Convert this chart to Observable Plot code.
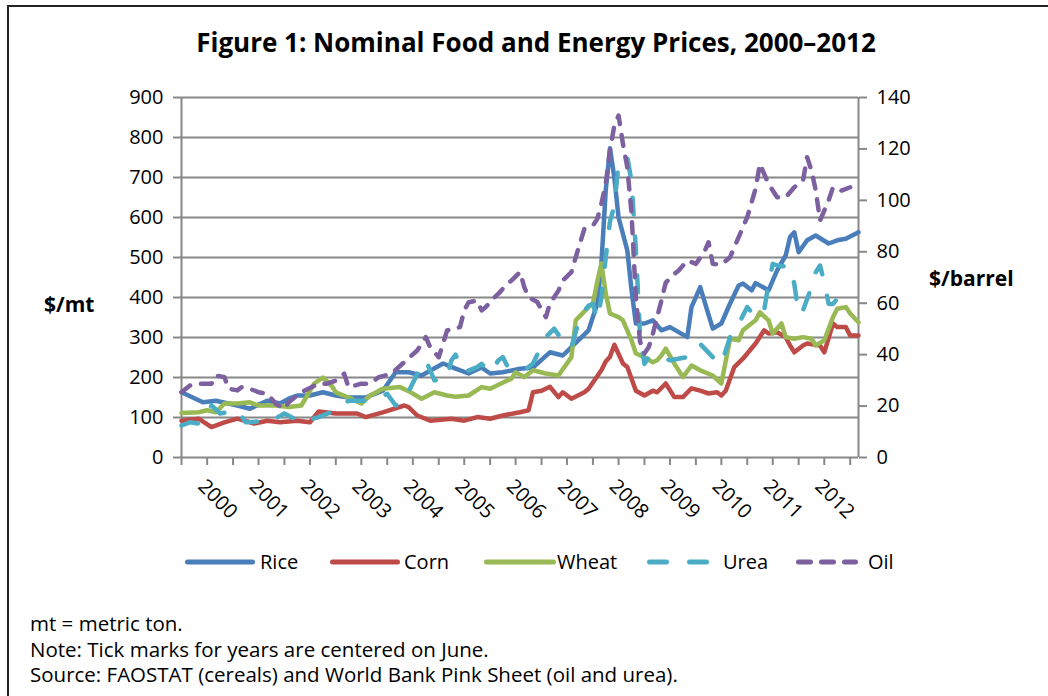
<!DOCTYPE html>
<html>
<head>
<meta charset="utf-8">
<script src="https://cdn.jsdelivr.net/npm/d3@7"></script>
<script src="https://cdn.jsdelivr.net/npm/@observablehq/plot@0.6"></script>
<style>
  html, body { margin: 0; padding: 0; background: #fff; }
  #wrap { position: relative; width: 1048px; height: 696px; overflow: hidden; font-family: "Open Sans", "DejaVu Sans", sans-serif; color: #000; }
  #frame { position: absolute; left: 7px; top: 5px; width: 1200px; height: 900px; border-top: 2px solid #222; border-left: 2px solid #222; }
  #title { position: absolute; left: 0; top: 23px; width: 1072px; text-align: center; font-weight: 700; font-size: 26px; line-height: 38px; }
  #chart { position: absolute; left: 0; top: 70px; }
  .ylab { position: absolute; font-weight: 700; font-size: 21px; line-height: 28px; }
  #legend { position: absolute; left: 0; top: 548px; width: 1048px; height: 28px; font-size: 20px; line-height: 28px; }
  #legend svg { position: absolute; top: 8px; display: block; }
  #legend span { position: absolute; top: 0; }
  #notes { position: absolute; left: 30px; top: 611px; font-size: 20.5px; line-height: 25.5px; }
</style>
</head>
<body>
<div id="wrap">
  <div id="frame"></div>
  <div id="title">Figure 1: Nominal Food and Energy Prices, 2000–2012</div>
  <div id="chart"></div>
  <div class="ylab" style="left:44px; top:290px;">$/mt</div>
  <div class="ylab" style="left:929px; top:264px;">$/barrel</div>
  <div id="legend"></div>
  <div id="notes">
    <div>mt = metric ton.</div>
    <div>Note: Tick marks for years are centered on June.</div>
    <div>Source: FAOSTAT (cereals) and World Bank Pink Sheet (oil and urea).</div>
  </div>
</div>
<script>
// ---------- DATA (monthly prices) ----------
// Rice, Corn, Wheat, Urea in $/mt (left axis); Oil in $/barrel (right axis)
const rice = [
  ["2000-01",163],["2000-06",138],["2000-09",142],["2001-02",130],["2001-05",122],["2001-09",142],
  ["2001-12",135],["2002-02",147],["2002-04",155],["2002-07",155],["2002-10",163],["2003-01",155],
  ["2003-04",150],["2003-08",150],["2003-12",167],["2004-03",213],["2004-06",213],["2004-09",205],
  ["2005-02",235],["2005-05",222],["2005-08",210],["2005-11",225],["2006-01",210],["2006-04",213],
  ["2006-08",222],["2006-11",225],["2007-03",263],["2007-06",255],["2007-08",276],["2007-12",318],
  ["2008-02",385],["2008-03",485],["2008-04",668],["2008-05",773],["2008-06",700],["2008-07",600],
  ["2008-09",518],["2008-10",418],["2008-11",335],["2009-01",335],["2009-03",343],["2009-05",318],
  ["2009-07",326],["2009-11",301],["2009-12",376],["2010-02",426],["2010-03",393],["2010-05",322],
  ["2010-07",335],["2010-09",385],["2010-11",430],["2010-12",435],["2011-02",418],["2011-03",436],
  ["2011-06",418],["2011-08",468],["2011-10",505],["2011-11",551],["2011-12",563],["2012-01",513],
  ["2012-03",543],["2012-05",555],["2012-08",535],["2012-10",543],["2012-12",547],["2013-03",563]
];
const corn = [
  ["2000-01",92],["2000-05",97],["2000-08",76],["2000-11",88],["2001-02",97],["2001-06",85],
  ["2001-09",92],["2001-12",88],["2002-04",92],["2002-07",88],["2002-09",115],["2003-01",110],
  ["2003-06",110],["2003-08",101],["2003-12",113],["2004-05",130],["2004-06",126],["2004-08",105],
  ["2004-11",92],["2005-04",97],["2005-07",92],["2005-10",101],["2006-01",97],["2006-04",105],
  ["2006-08",113],["2006-10",118],["2006-11",163],["2007-01",167],["2007-03",177],["2007-05",151],
  ["2007-06",163],["2007-08",147],["2007-11",163],["2007-12",172],["2008-03",218],["2008-04",240],
  ["2008-05",252],["2008-06",282],["2008-08",235],["2008-09",226],["2008-11",167],["2009-01",155],
  ["2009-03",167],["2009-04",163],["2009-06",185],["2009-08",151],["2009-10",151],["2009-12",173],
  ["2010-02",167],["2010-04",160],["2010-06",163],["2010-07",155],["2010-08",167],["2010-10",226],
  ["2010-12",247],["2011-03",285],["2011-05",318],["2011-06",310],["2011-08",313],["2011-10",301],
  ["2011-11",280],["2011-12",263],["2012-02",280],["2012-03",285],["2012-06",280],["2012-07",263],
  ["2012-09",335],["2012-10",326],["2012-12",326],["2013-01",305],["2013-03",305]
];
const wheat = [
  ["2000-01",111],["2000-05",113],["2000-07",118],["2000-09",113],["2000-11",135],["2001-02",135],
  ["2001-05",138],["2001-07",130],["2001-11",130],["2002-02",126],["2002-05",130],["2002-08",185],
  ["2002-10",200],["2002-12",180],["2003-01",163],["2003-04",150],["2003-07",135],["2003-09",155],
  ["2003-12",172],["2004-04",176],["2004-06",166],["2004-09",147],["2004-12",163],["2005-03",155],
  ["2005-05",152],["2005-08",155],["2005-11",176],["2006-01",172],["2006-03",182],["2006-06",197],
  ["2006-07",213],["2006-09",201],["2006-11",218],["2007-02",210],["2007-05",205],["2007-08",251],
  ["2007-09",343],["2007-12",376],["2008-01",385],["2008-02",440],["2008-03",485],["2008-04",410],
  ["2008-05",360],["2008-07",351],["2008-08",343],["2008-10",293],["2008-11",260],["2009-01",251],
  ["2009-03",238],["2009-04",243],["2009-05",255],["2009-06",272],["2009-08",235],["2009-10",201],
  ["2009-12",230],["2010-02",218],["2010-05",205],["2010-07",185],["2010-09",297],["2010-11",293],
  ["2010-12",318],["2011-03",343],["2011-04",363],["2011-06",343],["2011-07",310],["2011-09",335],
  ["2011-10",301],["2011-12",297],["2012-02",301],["2012-04",297],["2012-05",280],["2012-07",293],
  ["2012-09",351],["2012-10",372],["2012-12",376],["2013-01",360],["2013-03",338]
];
const urea = [
  ["2000-01",80],["2000-03",88],["2000-05",85],["2000-08",130],["2000-10",110],["2001-02",118],
  ["2001-04",88],["2001-10",92],["2002-01",110],["2002-05",88],["2002-09",101],["2003-01",118],
  ["2003-04",142],["2003-06",142],["2003-08",142],["2003-11",150],["2004-01",159],["2004-03",130],
  ["2004-05",142],["2004-08",209],["2004-10",243],["2004-12",193],["2005-02",193],["2005-03",201],
  ["2005-04",243],["2005-05",257],["2005-06",228],["2005-07",213],["2005-10",226],["2005-11",234],
  ["2006-01",213],["2006-03",243],["2006-04",251],["2006-05",230],["2006-09",218],["2006-11",235],
  ["2007-02",301],["2007-04",322],["2007-07",276],["2007-08",276],["2007-10",351],["2007-12",380],
  ["2008-01",384],["2008-02",345],["2008-03",400],["2008-04",500],["2008-05",590],["2008-06",630],
  ["2008-07",734],["2008-09",751],["2008-10",690],["2008-11",520],["2008-12",300],["2009-01",234],
  ["2009-02",251],["2009-05",251],["2009-07",243],["2009-11",251],["2010-02",284],["2010-05",251],
  ["2010-07",234],["2010-09",301],["2010-11",334],["2011-01",376],["2011-03",351],["2011-05",368],
  ["2011-06",434],["2011-07",484],["2011-08",480],["2011-11",476],["2011-12",434],["2012-01",359],
  ["2012-02",368],["2012-04",426],["2012-05",463],["2012-06",480],["2012-07",438],["2012-08",384],
  ["2012-09",384],["2012-10",397]
];
const oil = [
  ["2000-01",25.4],["2000-03",28],["2000-05",28.7],["2000-08",28.7],["2000-09",31.9],["2000-11",31.2],
  ["2000-12",26.7],["2001-02",26.1],["2001-03",27.3],["2001-05",26.7],["2001-07",25.4],["2001-09",24.8],
  ["2001-11",20.9],["2002-01",18.9],["2002-02",21.5],["2002-05",25.4],["2002-09",28.7],["2002-11",28.7],
  ["2003-01",29.9],["2003-03",32.6],["2003-04",27.3],["2003-07",28.7],["2003-09",28.7],["2003-11",31.2],
  ["2004-02",32.6],["2004-05",37.1],["2004-08",41.6],["2004-10",46.8],["2004-11",42.9],["2005-01",39],
  ["2005-03",49.4],["2005-06",50.7],["2005-07",57.2],["2005-08",60.4],["2005-10",61],["2005-11",57.2],
  ["2005-12",58.5],["2006-02",62.3],["2006-03",63.7],["2006-05",67.5],["2006-06",68.8],["2006-08",72.1],
  ["2006-09",66.2],["2006-10",62.3],["2006-12",60.5],["2007-02",54.6],["2007-03",59.8],["2007-05",64.9],
  ["2007-06",68.8],["2007-08",72.1],["2007-09",77.9],["2007-11",88.9],["2008-01",90.2],["2008-02",92.8],
  ["2008-03",98.7],["2008-04",106.4],["2008-05",119.4],["2008-06",129.1],["2008-07",133],["2008-08",122],
  ["2008-09",112.9],["2008-10",95],["2008-11",62],["2008-12",45],["2009-01",40.5],["2009-02",43],
  ["2009-03",48],["2009-05",61],["2009-06",68],["2009-08",71.4],["2009-09",72.7],["2009-11",76.6],
  ["2010-01",75.3],["2010-03",79.8],["2010-04",83.7],["2010-05",75.3],["2010-07",75],["2010-09",77.9],
  ["2010-11",85.7],["2011-01",93.5],["2011-03",104.5],["2011-04",114.2],["2011-05",110.3],["2011-06",106.4],
  ["2011-08",101.2],["2011-10",101.2],["2011-12",105.1],["2012-02",107.7],["2012-03",116.8],["2012-04",111.6],
  ["2012-05",104],["2012-06",92.2],["2012-08",100],["2012-09",105.1],["2012-11",103.8],["2013-01",105.1]
];

const seriesNames = ["Rice", "Corn", "Wheat", "Urea", "Oil"];
const leftTicks = [0, 100, 200, 300, 400, 500, 600, 700, 800, 900];
const rightTicks = [0, 20, 40, 60, 80, 100, 120, 140];
const yearLabels = ["2000","2001","2002","2003","2004","2005","2006","2007","2008","2009","2010","2011","2012"];
const xDomain = ["2000-01", "2013-03"];

// ---------- STYLE ----------
const colors = { Rice: "#4A7EBB", Corn: "#BE4B48", Wheat: "#98B954", Urea: "#4BACC6", Oil: "#7D60A0" };
const dashes = { Rice: null, Corn: null, Wheat: null, Urea: "17,22", Oil: "11,11" };
const gridColor = "#888888";
const lineWidth = 4.5;
// legend layout: sample left edge, sample width, label left edge
const legendLayout = {
  Rice:  { sx: 185, sw: 70, tx: 260 },
  Corn:  { sx: 330, sw: 70, tx: 404 },
  Wheat: { sx: 484, sw: 72, tx: 557 },
  Urea:  { sx: 647, sw: 62, tx: 723 },
  Oil:   { sx: 796, sw: 62, tx: 868 }
};

// ---------- BUILD ----------
const parse = d3.utcParse("%Y-%m");
const rows = arr => arr.map(([m, v]) => ({ date: parse(m), value: v }));
const leftMax = leftTicks[leftTicks.length - 1];
const rightMax = rightTicks[rightTicks.length - 1];
const toLeft = v => v * leftMax / rightMax;
const xStart = parse(xDomain[0]);
const xEnd = parse(xDomain[1]);
const halfYearTicks = d3.utcMonth.every(6).range(xStart, d3.utcMonth.offset(xEnd, 1));
const yearDates = yearLabels.map(y => parse(`${y}-06`));

const seriesData = { Rice: rows(rice), Corn: rows(corn), Wheat: rows(wheat), Urea: rows(urea), Oil: rows(oil) };

const lineMarks = seriesNames.map(name => Plot.line(seriesData[name], {
  x: "date",
  y: name === "Oil" ? d => toLeft(d.value) : "value",
  stroke: colors[name],
  strokeWidth: lineWidth,
  strokeLinecap: "round",
  strokeLinejoin: "round",
  strokeDasharray: dashes[name] || undefined
}));

const chart = Plot.plot({
  width: 1048,
  height: 470,
  marginLeft: 181,
  marginRight: 190,
  marginTop: 27,
  marginBottom: 83,
  x: { type: "utc", domain: [xStart, xEnd] },
  y: { domain: [0, leftMax] },
  style: { fontFamily: "'Open Sans', 'DejaVu Sans', sans-serif", fontSize: "20px", color: "#000", background: "transparent", overflow: "visible" },
  marks: [
    Plot.ruleY(leftTicks, { x1: xStart, x2: xEnd, stroke: gridColor, strokeWidth: 2 }),
    Plot.ruleX([xStart, xEnd], { y1: 0, y2: leftMax, stroke: gridColor, strokeWidth: 2 }),
    Plot.axisY(leftTicks, { anchor: "left", tickSize: 8, tickPadding: 10, stroke: gridColor, strokeWidth: 2, fill: "#000", label: null }),
    Plot.axisY(rightTicks.map(toLeft), { anchor: "right", tickSize: 8, tickPadding: 10, stroke: gridColor, strokeWidth: 2, fill: "#000", label: null,
      tickFormat: d => String(Math.round(d * rightMax / leftMax)) }),
    Plot.axisX(halfYearTicks, { anchor: "bottom", tickSize: 8, stroke: gridColor, strokeWidth: 2, tickFormat: () => "", label: null }),
    Plot.text(yearDates, { x: d => d, text: (d, i) => yearLabels[i], frameAnchor: "bottom", rotate: 45,
      textAnchor: "start", lineAnchor: "bottom", dx: -6, dy: 30, fontSize: 20, fill: "#000" }),
    ...lineMarks
  ]
});
document.getElementById("chart").appendChild(chart);

// ---------- LEGEND ----------
const legend = document.getElementById("legend");
const ns = "http://www.w3.org/2000/svg";
seriesNames.forEach(name => {
  const L = legendLayout[name];
  const svg = document.createElementNS(ns, "svg");
  svg.setAttribute("width", L.sw); svg.setAttribute("height", 12);
  svg.style.left = L.sx + "px";
  const ln = document.createElementNS(ns, "line");
  ln.setAttribute("x1", 2.5); ln.setAttribute("x2", L.sw - 2.5); ln.setAttribute("y1", 6); ln.setAttribute("y2", 6);
  ln.setAttribute("stroke", colors[name]); ln.setAttribute("stroke-width", 5);
  ln.setAttribute("stroke-linecap", "round");
  if (dashes[name]) ln.setAttribute("stroke-dasharray", name === "Urea" ? "17,23" : "12,11");
  svg.appendChild(ln);
  const label = document.createElement("span");
  label.textContent = name;
  label.style.left = L.tx + "px";
  legend.appendChild(svg); legend.appendChild(label);
});
</script>
</body>
</html>
